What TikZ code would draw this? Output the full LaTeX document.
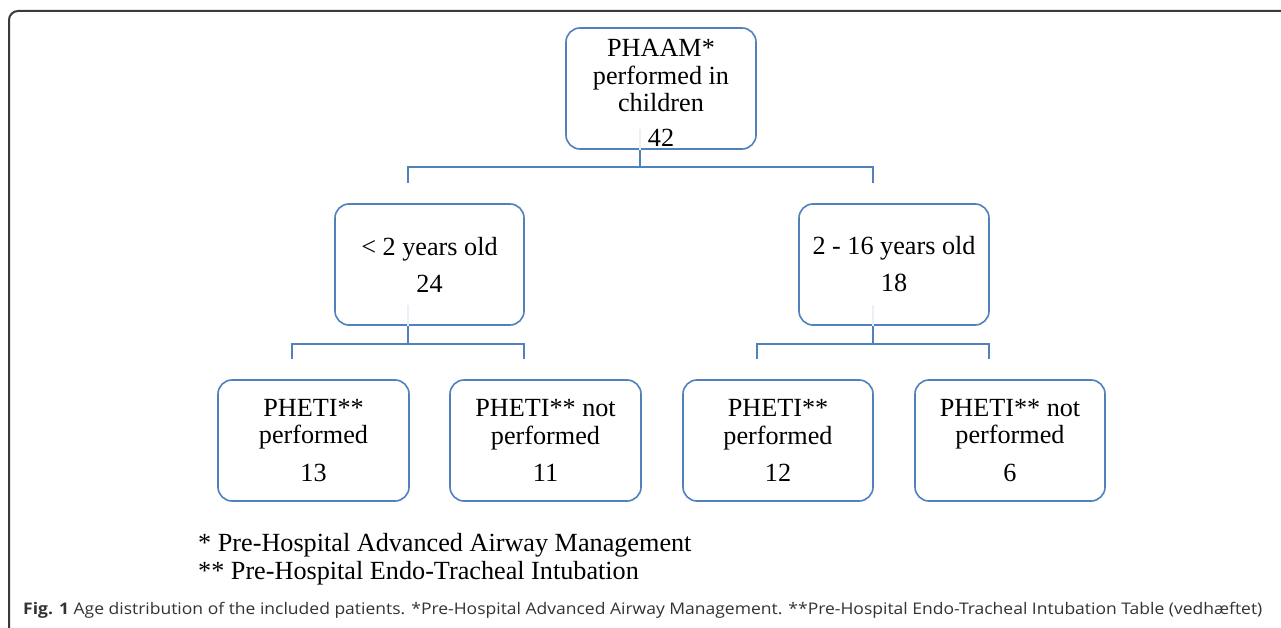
\documentclass[tikz,border=0pt]{standalone}
\usepackage{fontspec}
\setmainfont{Liberation Serif}
\newfontfamily\capfont{Open Sans}
\usepackage{graphicx}
\definecolor{boxblue}{HTML}{4F81BD}
\definecolor{framegray}{HTML}{3A3A3A}
\definecolor{capgray}{HTML}{333333}
\newcommand{\boxfont}{\fontsize{26.2}{27.5}\selectfont}
\tikzset{
  box/.style={draw=boxblue, line width=1.6pt, rounded corners=14pt,
    minimum width=190pt, minimum height=121pt, align=center,
    font=\boxfont, inner sep=0pt},
  conn/.style={draw=boxblue, line width=1.5pt},
  faint/.style={draw=boxblue!12, line width=1.5pt},
  note/.style={anchor=base west, font=\boxfont, inner sep=0pt}
}
\begin{document}
\begin{tikzpicture}[x=1pt, y=-1pt]
\useasboundingbox (0,0) rectangle (1281,628);
\fill[white] (0,0) rectangle (1281,628);
\begin{scope}
\clip (0,0) rectangle (1281,628);
\draw[framegray, line width=2pt, rounded corners=9pt] (9,11) rectangle (1300,650);
\end{scope}

% boxes
\node[box] (top) at (661,88.5) {\rule{0pt}{26pt}PHAAM*\\performed in\\children\\[7pt]42};
\node[box, minimum width=189pt] (ml) at (429.5,264.5) {< 2 years old\\[9.5pt]24};
\node[box] (mr) at (894,264.5) {2 - 16 years old\\[9.5pt]18};
\node[box, minimum width=191pt] (ll) at (313.5,440.5) {PHETI**\\performed\\[10pt]13};
\node[box, minimum width=191pt] (lr) at (545.5,440.5) {PHETI** not\\performed\\[10pt]11};
\node[box] (rl) at (778,440.5) {PHETI**\\performed\\[10pt]12};
\node[box] (rr) at (1010,440.5) {PHETI** not\\performed\\[10pt]6};

% drop ends
\coordinate (mlTop) at (408,183);
\coordinate (mrTop) at (873,183);
\coordinate (llTop) at (292,359);
\coordinate (lrTop) at (524,359);
\coordinate (rlTop) at (757,359);
\coordinate (rrTop) at (989,359);

% connectors
\draw[faint] ([xshift=-21pt]top.south) -- ++(0,-21);
\draw[conn] ([xshift=-21pt]top.south) -- ++(0,17) -| (mlTop);
\draw[conn] ([xshift=-21pt]top.south) ++(0,17) -| (mrTop);

\draw[faint] ([xshift=-21.5pt]ml.south) -- ++(0,-21);
\draw[conn] ([xshift=-21.5pt]ml.south) -- ++(0,18) -| (llTop);
\draw[conn] ([xshift=-21.5pt]ml.south) ++(0,18) -| (lrTop);

\draw[faint] ([xshift=-21pt]mr.south) -- ++(0,-21);
\draw[conn] ([xshift=-21pt]mr.south) -- ++(0,18) -| (rlTop);
\draw[conn] ([xshift=-21pt]mr.south) ++(0,18) -| (rrTop);

% footnotes
\node[note] (fn1) at (198,551) {* Pre-Hospital Advanced Airway Management};
\node[note] (fn2) at (198,579) {** Pre-Hospital Endo-Tracheal Intubation};

% caption
\node[anchor=base west, inner sep=0pt, text=capgray] (cap) at (23,614)
  {\resizebox{1239pt}{\height}{\capfont\fontsize{16}{17}\selectfont\textbf{Fig. 1} Age distribution of the included patients. *Pre-Hospital Advanced Airway Management. **Pre-Hospital Endo-Tracheal Intubation Table (vedhæftet)}};
\end{tikzpicture}
\end{document}
